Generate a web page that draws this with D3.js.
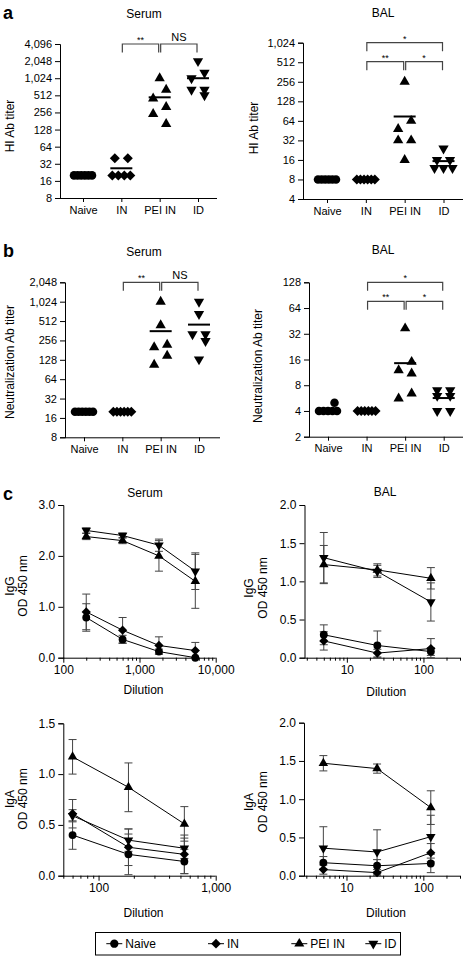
<!DOCTYPE html>
<html><head><meta charset="utf-8">
<script src="https://cdn.jsdelivr.net/npm/d3@7"></script>
<style>
body{margin:0;background:#fff;}
svg{display:block;font-family:"Liberation Sans",Arial,Helvetica,sans-serif;}
</style></head><body>
<svg id="chart" width="466" height="964"></svg>
<script>
// ---------------- DATA ----------------
const categories = ["Naive", "IN", "PEI IN", "ID"];

// a: HI antibody titers (per mouse), order follows categories
const hiSerum = [
  [20, 20, 20, 20, 20, 20],
  [40, 40, 20, 20, 20, 20],
  [1024, 640, 450, 320, 240, 160],
  [2048, 1280, 1024, 640, 640, 512]
];
const hiBal = [
  [8, 8, 8, 8, 8, 8],
  [8, 8, 8, 8, 8, 8],
  [256, 64, 48, 32, 32, 16],
  [24, 16, 16, 12, 12, 12]
];
// b: neutralization antibody titers
const neutSerum = [
  [20, 20, 20, 20, 20, 20],
  [20, 20, 20, 20, 20, 20],
  [1024, 440, 220, 200, 148, 107],
  [1024, 660, 320, 320, 250, 130]
];
const neutBal = [
  [5, 4, 4, 4, 4, 4],
  [4, 4, 4, 4, 4, 4],
  [37, 15, 12, 11, 6.4, 5.6],
  [7, 7, 6, 6, 4, 4]
];
const hiSerumTicks = [8, 16, 32, 64, 128, 256, 512, 1024, 2048, 4096];
const hiBalTicks = [4, 8, 16, 32, 64, 128, 256, 512, 1024];
const neutSerumTicks = [8, 16, 32, 64, 128, 256, 512, 1024, 2048];
const neutBalTicks = [2, 4, 8, 16, 32, 64, 128];

// significance brackets: [from, to, label, level]
const serumBrackets = [["IN", "PEI IN", "**", 0], ["PEI IN", "ID", "NS", 0]];
const balBrackets = [["IN", "ID", "*", 0], ["IN", "PEI IN", "**", 1], ["PEI IN", "ID", "*", 1]];

// c: ELISA OD450 (mean and error), rows follow categories
const serumIgGDil = [200, 600, 1800, 5400];
const serumIgG = [
  [0.79, 0.36, 0.12, 0.0],
  [0.90, 0.54, 0.24, 0.14],
  [2.38, 2.30, 2.00, 1.50],
  [2.50, 2.40, 2.21, 1.70]
];
const serumIgGErr = [
  [0.27, 0.08, 0.05, 0.03],
  [0.35, 0.25, 0.17, 0.16],
  [0.06, 0.06, 0.30, 0.53],
  [0.05, 0.05, 0.12, 0.36]
];
const balIgGDil = [5, 25, 125];
const balIgG = [
  [0.30, 0.16, 0.08],
  [0.22, 0.06, 0.12],
  [1.22, 1.15, 1.04],
  [1.31, 1.13, 0.73]
];
const balIgGErr = [
  [0.13, 0.19, 0.05],
  [0.12, 0.05, 0.13],
  [0.25, 0.08, 0.14],
  [0.33, 0.08, 0.25]
];
const serumIgADil = [60, 180, 540];
const serumIgA = [
  [0.40, 0.21, 0.14],
  [0.61, 0.28, 0.21],
  [1.17, 0.87, 0.51],
  [0.59, 0.35, 0.27]
];
const serumIgAErr = [
  [0.14, 0.20, 0.12],
  [0.14, 0.18, 0.19],
  [0.17, 0.24, 0.17],
  [0.06, 0.11, 0.10]
];
const balIgADil = [5, 25, 125];
const balIgA = [
  [0.17, 0.13, 0.16],
  [0.08, 0.04, 0.30],
  [1.47, 1.40, 0.89],
  [0.36, 0.31, 0.51]
];
const balIgAErr = [
  [0.08, 0.08, 0.12],
  [0.06, 0.04, 0.12],
  [0.10, 0.06, 0.22],
  [0.28, 0.29, 0.28]
];
const igGSerumYTicks = [0, 1, 2, 3];
const halfYTicks2 = [0, 0.5, 1, 1.5, 2];
const halfYTicks15 = [0, 0.5, 1, 1.5];

// ---------------- DRAWING ----------------
const svg = d3.select("#chart");
const FONT = '"Liberation Sans", Arial, Helvetica, sans-serif';
const GREY = "#444";

function symbolPath(k, scale) {
  const s = scale || 1;
  if (k === 0) return d3.symbol(d3.symbolCircle, 57 * s)();
  if (k === 1) return d3.symbol(d3.symbolSquare, 50 * s)();
  return d3.symbol(d3.symbolTriangle, 46 * s)();
}
function symbolRotate(k) { return k === 1 ? 45 : (k === 3 ? 180 : 0); }
function drawSymbol(g, k, x, y, scale) {
  g.append("path").attr("d", symbolPath(k, scale))
    .attr("transform", `translate(${x},${y}) rotate(${symbolRotate(k)})`)
    .attr("fill", "#000").attr("stroke", "none");
}

function styleAxis(sel, size) {
  sel.attr("font-family", FONT).attr("font-size", size);
  sel.selectAll("path,line").attr("stroke", "#000").attr("stroke-width", 1);
  sel.selectAll("text").attr("fill", "#000");
}

function swarmOffsets(vals, y) {
  const pts = vals.map((v, i) => ({ i, y: y(v) })).sort((a, b) => a.y - b.y);
  const groups = [];
  pts.forEach(p => {
    const g = groups[groups.length - 1];
    if (g && Math.abs(p.y - g[0].y) < 2.5) g.push(p); else groups.push([p]);
  });
  const runs = [];
  groups.forEach(g => {
    const r = runs[runs.length - 1];
    if (r && g[0].y - r[r.length - 1][0].y < 10.5) r.push(g); else runs.push([g]);
  });
  const off = new Array(vals.length).fill(0);
  runs.forEach(r => {
    let t = 1;
    r.forEach(g => {
      if (g.length > 1) {
        const gap = Math.min(13, 18 / (g.length - 1));
        g.forEach((p, k) => off[p.i] = (k - (g.length - 1) / 2) * gap);
      } else if (r.length > 1) {
        off[g[0].i] = 6.5 * t; t = -t;
      }
    });
  });
  return off;
}

function vLabel(text, x, y, size) {
  svg.append("text").attr("transform", `translate(${x},${y}) rotate(-90)`)
    .attr("text-anchor", "middle").attr("dominant-baseline", "central")
    .attr("font-size", size).attr("fill", "#000").text(text);
}
function title(text, x, y, size) {
  svg.append("text").attr("x", x).attr("y", y).attr("text-anchor", "middle")
    .attr("font-size", size || 12).attr("fill", "#000").text(text);
}

function dotPanel(cfg, data, ticks, brackets) {
  const g = svg.append("g");
  const y = d3.scaleLog().base(2).domain(cfg.domain).range([cfg.yBot, cfg.yTop]);
  const x = d3.scalePoint().domain(categories).range(cfg.catRange);

  const ya = g.append("g").attr("transform", `translate(${cfg.x0},0)`)
    .call(d3.axisLeft(y).tickValues(ticks).tickFormat(d3.format(",")).tickSize(5).tickPadding(3));
  styleAxis(ya, 11);
  const xa = g.append("g").attr("transform", `translate(0,${cfg.yBot})`)
    .call(d3.axisBottom(x).tickSize(4).tickPadding(4));
  xa.select(".domain").attr("d", `M${cfg.x0},0.5H${cfg.x1}`);
  styleAxis(xa, 11);

  data.forEach((vals, k) => {
    const cx = x(categories[k]);
    const off = swarmOffsets(vals, y);
    vals.forEach((v, i) => drawSymbol(g, k, cx + off[i], y(v), 1));
    const m = d3.mean(vals);
    g.append("line").attr("x1", cx - 11).attr("x2", cx + 11)
      .attr("y1", y(m)).attr("y2", y(m)).attr("stroke", "#000").attr("stroke-width", 2);
  });

  brackets.forEach(([a, b, lab, lvl]) => {
    const ly = cfg.yTop + lvl * 19;
    const xa1 = x(a) + 1, xb1 = x(b) - 1;
    g.append("path").attr("d", `M${xa1},${ly + 8.5}V${ly}H${xb1}V${ly + 8.5}`)
      .attr("fill", "none").attr("stroke", GREY).attr("stroke-width", 1.2);
    const isStar = lab.indexOf("*") >= 0;
    g.append("text").attr("x", (xa1 + xb1) / 2).attr("y", isStar ? ly - 1 : ly - 3)
      .attr("text-anchor", "middle").attr("font-size", isStar ? 9 : 11)
      .attr("fill", "#000").text(lab);
  });

  title(cfg.title, cfg.titleX, cfg.titleY, 12);
  vLabel(cfg.ylabel, cfg.ylabelX, cfg.ylabelY, 12);
}

function linePanel(cfg, dil, means, errs) {
  const g = svg.append("g");
  const x = d3.scaleLog().domain(cfg.xdomain).range([cfg.x0, cfg.x1]);
  const y = d3.scaleLinear().domain(cfg.ydomain).range([cfg.yBot, cfg.yTop]);
  const ya = g.append("g").attr("transform", `translate(${cfg.x0},0)`)
    .call(d3.axisLeft(y).tickValues(cfg.yticks).tickFormat(d3.format(".1f")).tickSize(5).tickPadding(3));
  styleAxis(ya, 12);

  const [d0, d1] = cfg.xdomain;
  const major = [], minor = [];
  for (let p = Math.floor(Math.log10(d0)); p <= Math.ceil(Math.log10(d1)); p++) {
    for (let m = 1; m <= 9; m++) {
      const v = m * Math.pow(10, p);
      if (v < d0 * 0.999 || v > d1 * 1.001) continue;
      (m === 1 ? major : minor).push(v);
    }
  }
  const xm = g.append("g").attr("transform", `translate(0,${cfg.yBot})`)
    .call(d3.axisBottom(x).tickValues(minor).tickFormat("").tickSize(3));
  xm.select(".domain").remove();
  styleAxis(xm, 12);
  const xa = g.append("g").attr("transform", `translate(0,${cfg.yBot})`)
    .call(d3.axisBottom(x).tickValues(major).tickFormat(d3.format(",")).tickSize(5).tickPadding(3));
  xa.select(".domain").attr("d", `M${cfg.x0},0.5H${cfg.x1}`);
  styleAxis(xa, 12);

  // error bars
  means.forEach((row, k) => {
    row.forEach((v, i) => {
      const e = errs[k][i];
      if (e <= 0.03) return;
      const px = x(dil[i]);
      const top = y(v + e), bot = y(Math.max(0, v - e));
      g.append("path").attr("d", `M${px},${top}V${bot}M${px - 4},${top}H${px + 4}M${px - 4},${bot}H${px + 4}`)
        .attr("stroke", GREY).attr("stroke-width", 1).attr("fill", "none");
    });
  });
  const line = d3.line().x((d, i) => x(dil[i])).y(d => y(d));
  means.forEach((row, k) => {
    g.append("path").attr("d", line(row)).attr("fill", "none")
      .attr("stroke", "#000").attr("stroke-width", 1);
  });
  means.forEach((row, k) => {
    row.forEach((v, i) => drawSymbol(g, k, x(dil[i]), y(v), 0.85));
  });

  if (cfg.title) title(cfg.title, cfg.titleX, cfg.titleY, 12);
  svg.append("text").attr("x", (cfg.x0 + cfg.x1) / 2 + 4).attr("y", cfg.dilY)
    .attr("text-anchor", "middle").attr("font-size", 12).attr("fill", "#000").text("Dilution");
  vLabel(cfg.ylab1, cfg.ylabX1, cfg.ylabY, 12);
  vLabel("OD 450 nm", cfg.ylabX2, cfg.ylabY, 12);
}

// panel letters
[["a", 3, 19], ["b", 3, 257], ["c", 3, 500]].forEach(([t, x, y]) =>
  svg.append("text").attr("x", x).attr("y", y).attr("font-size", 18)
    .attr("font-weight", "bold").attr("fill", "#000").text(t));

dotPanel({ x0: 60, x1: 217, yTop: 44, yBot: 198, catRange: [83, 198], domain: [8, 4096],
  title: "Serum", titleX: 144, titleY: 18, ylabel: "HI Ab titer", ylabelX: 10, ylabelY: 126 },
  hiSerum, hiSerumTicks, serumBrackets);
dotPanel({ x0: 303, x1: 463, yTop: 42.7, yBot: 199, catRange: [327, 443.5], domain: [4, 1024],
  title: "BAL", titleX: 383, titleY: 17, ylabel: "HI Ab titer", ylabelX: 254, ylabelY: 128 },
  hiBal, hiBalTicks, balBrackets);
dotPanel({ x0: 65, x1: 220, yTop: 282.3, yBot: 437.3, catRange: [84, 199], domain: [8, 2048],
  title: "Serum", titleX: 144, titleY: 256, ylabel: "Neutralization Ab titer", ylabelX: 10, ylabelY: 362 },
  neutSerum, neutSerumTicks, serumBrackets);
dotPanel({ x0: 309, x1: 463, yTop: 282.3, yBot: 436.7, catRange: [328, 443.7], domain: [2, 128],
  title: "BAL", titleX: 383, titleY: 254, ylabel: "Neutralization Ab titer", ylabelX: 258, ylabelY: 366 },
  neutBal, neutBalTicks, balBrackets);

linePanel({ x0: 63.3, x1: 215.7, xdomain: [100, 10000], yTop: 505, yBot: 657.7, ydomain: [0, 3],
  yticks: igGSerumYTicks, title: "Serum", titleX: 145, titleY: 497, dilY: 694,
  ylab1: "IgG", ylabX1: 10, ylabX2: 23, ylabY: 586 }, serumIgGDil, serumIgG, serumIgGErr);
linePanel({ x0: 304.5, x1: 460, xdomain: [2.8, 300], yTop: 505, yBot: 657.7, ydomain: [0, 2],
  yticks: halfYTicks2, title: "BAL", titleX: 385, titleY: 496, dilY: 696,
  ylab1: "IgG", ylabX1: 249, ylabX2: 263, ylabY: 588 }, balIgGDil, balIgG, balIgGErr);
linePanel({ x0: 63.3, x1: 215.7, xdomain: [50, 1000], yTop: 723.3, yBot: 875.7, ydomain: [0, 1.5],
  yticks: halfYTicks15, dilY: 917,
  ylab1: "IgA", ylabX1: 10, ylabX2: 23, ylabY: 799 }, serumIgADil, serumIgA, serumIgAErr);
linePanel({ x0: 304, x1: 460, xdomain: [2.8, 300], yTop: 722.7, yBot: 875.7, ydomain: [0, 2],
  yticks: halfYTicks2, dilY: 917,
  ylab1: "IgA", ylabX1: 249, ylabX2: 263, ylabY: 802 }, balIgADil, balIgA, balIgAErr);

// legend
const lg = svg.append("g");
lg.append("rect").attr("x", 95.5).attr("y", 932.5).attr("width", 305).attr("height", 22.5)
  .attr("fill", "#fff").attr("stroke", "#000").attr("stroke-width", 1);
const legendX = [114.3, 216, 299.3, 373.3];
categories.forEach((c, k) => {
  const mx = legendX[k], my = 943.7;
  lg.append("line").attr("x1", mx - 8).attr("x2", mx + 8).attr("y1", my).attr("y2", my)
    .attr("stroke", "#000").attr("stroke-width", 1);
  drawSymbol(lg, k, mx, my, 0.95);
  lg.append("text").attr("x", mx + 11).attr("y", my).attr("dominant-baseline", "central")
    .attr("font-size", 12).attr("fill", "#000").text(c);
});
</script>
</body></html>
